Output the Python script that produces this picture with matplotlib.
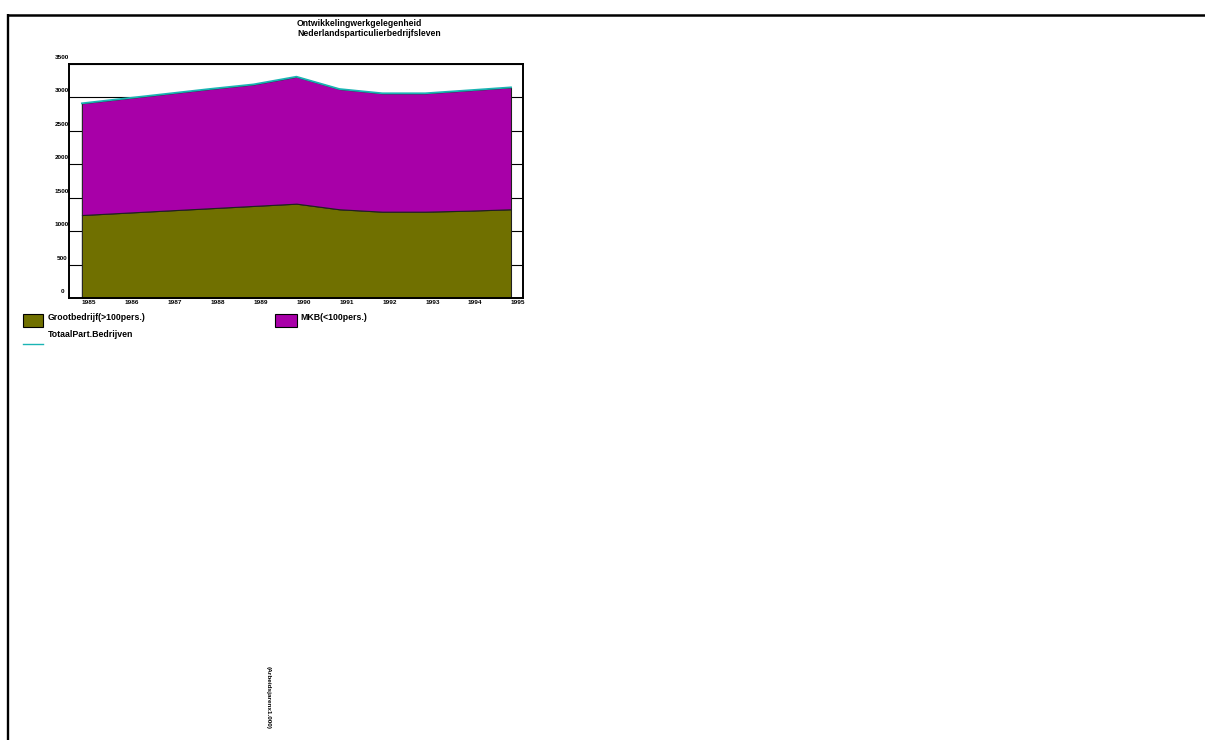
import numpy as np
import matplotlib
matplotlib.use("Agg")
import matplotlib.pyplot as plt
from matplotlib.patches import Rectangle
from matplotlib.lines import Line2D
from matplotlib.transforms import ScaledTranslation

plt.rcParams['font.family'] = ['Liberation Sans', 'DejaVu Sans']
plt.rcParams['font.weight'] = 'bold'

# werkgelegenheid in arbeidsjaren x 1.000
jaren = [1985, 1986, 1987, 1988, 1989, 1990, 1991, 1992, 1993, 1994, 1995]
groot = [1241, 1275, 1309, 1343, 1377, 1411, 1327, 1291, 1291, 1306, 1327]
mkb = [1671, 1709, 1747, 1785, 1818, 1899, 1799, 1771, 1771, 1800, 1824]
y_ticks = [0, 500, 1000, 1500, 2000, 2500, 3000, 3500]

titel1 = "Ontwikkelingwerkgelegenheid"
titel2 = "Nederlandsparticulierbedrijfsleven"
naam_groot = "Grootbedrijf(>100pers.)"
naam_mkb = "MKB(<100pers.)"
naam_totaal = "TotaalPart.Bedrijven"
y_titel = "(Arbeidsjarenx1.000)"

kleur_groot = '#707000'
kleur_mkb = '#a800a8'
kleur_totaal = '#1ab4b4'

W, H = 1205, 740
fig = plt.figure(figsize=(W / 100, H / 100), dpi=100)

def fx(px):
    return px / W

def fy(py):
    return 1 - py / H

ax = fig.add_axes([fx(69), fy(298), fx(523) - fx(69), fy(64) - fy(298)])

# gestapelde vlakken
ax.stackplot(jaren, groot, mkb, colors=[kleur_groot, kleur_mkb],
             edgecolor='#202020', linewidth=0.8, zorder=2)
totaal = np.array(groot) + np.array(mkb)
ax.plot(jaren, totaal, color=kleur_totaal, lw=1.3, zorder=3)

ax.set_xlim(1984.70, 1995.28)
ax.set_ylim(0, 3500)

ax.set_yticks(y_ticks)
ax.set_yticklabels([str(v) for v in y_ticks])
ax.set_xticks(jaren)
ax.set_xticklabels([str(j) for j in jaren])
ax.tick_params(axis='both', length=0, labelsize=4.6)
ax.tick_params(axis='y', pad=5)
ax.tick_params(axis='x', pad=1.2)

omhoog = ScaledTranslation(0, 0.07, fig.dpi_scale_trans)
for lbl in ax.get_yticklabels():
    lbl.set_horizontalalignment('center')
    lbl.set_transform(lbl.get_transform() + omhoog)
    lbl.set_fontweight('bold')
for lbl in ax.get_xticklabels():
    lbl.set_horizontalalignment('left')
    lbl.set_fontweight('bold')

ax.yaxis.grid(True, color='black', lw=0.8)
ax.set_axisbelow(True)
for s in ax.spines.values():
    s.set_linewidth(1.4)
    s.set_color('black')

# titel
fig.text(fx(297), fy(23.5), titel1, fontsize=6.2, va='center', ha='left')
fig.text(fx(297), fy(33), titel2, fontsize=6.2, va='center', ha='left')

# legenda
fig.add_artist(Rectangle((fx(22.5), fy(327)), fx(43) - fx(22.5), fy(314) - fy(327),
                         transform=fig.transFigure, facecolor=kleur_groot,
                         edgecolor='black', lw=0.8))
fig.text(fx(48), fy(312.5), naam_groot, fontsize=6.3, va='top', ha='left')
fig.add_artist(Rectangle((fx(275), fy(327)), fx(297) - fx(275), fy(314) - fy(327),
                         transform=fig.transFigure, facecolor=kleur_mkb,
                         edgecolor='black', lw=0.8))
fig.text(fx(300), fy(312.5), naam_mkb, fontsize=6.3, va='top', ha='left')
fig.add_artist(Line2D([fx(22.5), fx(43)], [fy(344), fy(344)],
                      transform=fig.transFigure, color=kleur_totaal, lw=1.0))
fig.text(fx(48), fy(330), naam_totaal, fontsize=6.3, va='top', ha='left')

# as-titel onderaan
fig.text(fx(268), fy(697), y_titel, fontsize=4.6, rotation=270,
         va='center', ha='center')

# kader
fig.add_artist(Line2D([fx(8), fx(1205)], [fy(14.5), fy(14.5)],
                      transform=fig.transFigure, color='black', lw=1.8,
                      solid_capstyle='butt'))
fig.add_artist(Line2D([fx(8), fx(8)], [fy(13.6), fy(740)],
                      transform=fig.transFigure, color='black', lw=1.7,
                      solid_capstyle='butt'))

fig.savefig("out.png", dpi=100)
